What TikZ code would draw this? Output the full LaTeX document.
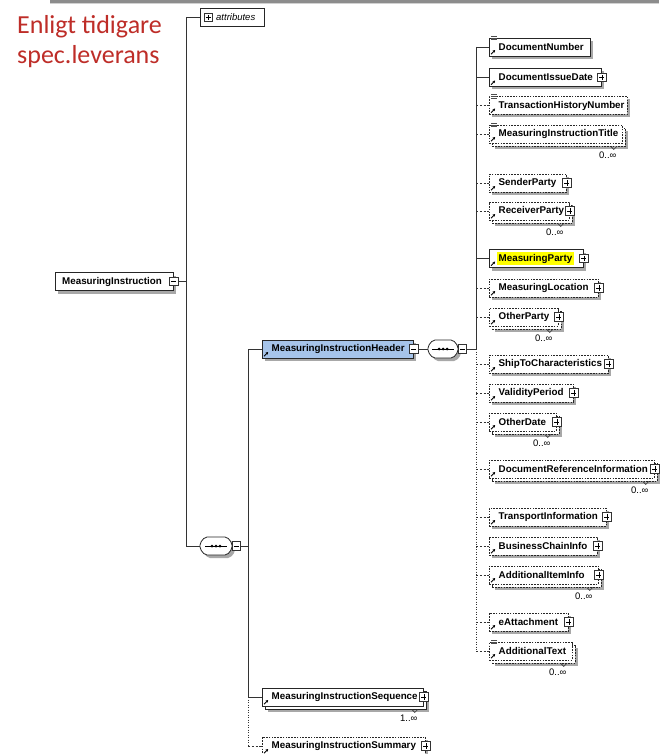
\documentclass[tikz,border=0pt]{standalone}
\usepackage{fontspec}
\setmainfont{Liberation Sans}
\newfontfamily\carlito{Carlito}
\usetikzlibrary{arrows.meta,calc}
\definecolor{notered}{RGB}{190,45,40}
\definecolor{hdrblue}{RGB}{166,196,234}
\definecolor{hlyellow}{RGB}{255,255,0}
\definecolor{shadowc}{RGB}{168,168,168}
\tikzset{
 conn/.style={draw=black!80, line width=0.9pt},
 optconn/.style={draw=black!80, line width=0.8pt, dash pattern=on 2.2pt off 1.6pt},
 dotconn/.style={draw=black!80, line width=0.9pt, dash pattern=on 1pt off 1.5pt},
 reqb/.style={rectangle, draw=black!85, line width=0.8pt, fill=white},
 optb/.style={rectangle, draw=black!85, line width=0.8pt, fill=white, dash pattern=on 1.6pt off 1.2pt},
 eltext/.style={font=\fontsize{9.8}{11}\selectfont\bfseries, inner xsep=1.5pt, inner ysep=2pt, text=black},
 occ/.style={font=\fontsize{9.5}{10}\selectfont, inner sep=0pt},
 pbox/.style={rectangle, draw=black!80, fill=white, line width=0.6pt, minimum size=8.5pt, inner sep=0pt,
   path picture={\draw[black, line width=0.6pt] ([xshift=-2.6pt]path picture bounding box.center) -- ([xshift=2.6pt]path picture bounding box.center) ([yshift=-2.6pt]path picture bounding box.center) -- ([yshift=2.6pt]path picture bounding box.center);}},
 mbox/.style={rectangle, draw=black!80, fill=white, line width=0.6pt, minimum size=8.5pt, inner sep=0pt,
   path picture={\draw[black, line width=0.6pt] ([xshift=-2.6pt]path picture bounding box.center) -- ([xshift=2.6pt]path picture bounding box.center);}},
 refarrow/.style={draw=black, line width=0.9pt, -{Stealth[length=2.6pt,width=2.8pt]}},
 compline/.style={draw=black!85, line width=0.8pt, fill=white, rounded corners=2pt},
}
% #1 name #2 left #3 cy #4 right #5 text #6 border style #7 occurrence label #8 text options
\newcommand\xel[8]{%
 \pgfmathsetmacro\elw{#4-#2}%
 \def\occtmp{#7}%
 \ifx\occtmp\empty
  \fill[shadowc] (#2+3,#3-6) rectangle (#4+3,#3+12);
  \node[#6, minimum width=\elw pt, minimum height=18pt, inner sep=0pt, anchor=west] (#1) at (#2,#3) {};
 \else
  \fill[shadowc] (#2+6,#3-3) rectangle (#4+6,#3+15);
  \node[#6, minimum width=\elw pt, minimum height=18pt, inner sep=0pt, anchor=west] (#1-b) at (#2+3,#3+3) {};
  \node[#6, minimum width=\elw pt, minimum height=18pt, inner sep=0pt, anchor=west] (#1) at (#2,#3) {};
  \draw[black!80, line width=0.6pt] ([xshift=-15pt]#1-b.south east) -- ++(3pt,-3pt) -- ++(3pt,3pt);
  \node[occ] (#1-o) at ([shift={(-15pt,-21pt)}]#1.east) {#7};
 \fi
 \node[eltext, anchor=west, #8] (#1-t) at ([xshift=8pt]#1.west) {#5};
 \draw[refarrow] ([shift={(2pt,2.2pt)}]#1.south west) -- ++(4.2pt,4.2pt);
}
\newcommand\plusat[1]{\node[pbox] (#1-p) at (#1.east) {};}
\newcommand\simpleicon[1]{%
 \fill[white] ([shift={(1.5pt,2pt)}]#1.north west) rectangle ++(6.5pt,-5pt);
 \foreach \dy in {1.5,-0.2,-1.9} \draw[black!70, line width=0.5pt] ([shift={(2pt,\dy pt)}]#1.north west) -- ++(5.5pt,0);}
% sequence compositor: #1 name #2 cx #3 cy #4 half width
\newcommand\compo[4]{%
 \fill[shadowc, rounded corners=2pt] (#2-#4+8,#3-6) -- (#2+#4-2,#3-6) -- (#2+#4+3,#3) -- (#2+#4+3,#3+6) -- (#2+#4-2,#3+12) -- (#2-#4+8,#3+12) -- (#2-#4+3,#3+6) -- (#2-#4+3,#3) -- cycle;
 \path[compline] (#2-#4+5,#3-9) -- (#2+#4-5,#3-9) -- (#2+#4,#3-3) -- (#2+#4,#3+3) -- (#2+#4-5,#3+9) -- (#2-#4+5,#3+9) -- (#2-#4,#3+3) -- (#2-#4,#3-3) -- cycle;
 \node[minimum width={2*#4 pt}, minimum height=18pt, inner sep=0pt] (#1) at (#2,#3) {};
 \draw[black, line width=0.8pt] ([xshift=-11pt]#1.center) -- ([xshift=11pt]#1.center);
 \foreach \dx in {-4,0,4} \fill[black] ([xshift=\dx pt]#1.center) circle (1.5pt);
 \node[mbox] (#1-m) at ([xshift=4.25pt]#1.east) {};
}
\begin{document}
\begin{tikzpicture}[x=1pt,y=-1pt]
\useasboundingbox (0,0) rectangle (659,754);
\fill[white] (0,0) rectangle (659,754);
% top bar
\fill[black!45] (50,0) rectangle (659,3);
\fill[black!18] (50,3) rectangle (659,4.5);
% note
\node[font=\carlito\fontsize{26}{30}\selectfont, text=notered, anchor=base west, inner sep=0pt] (note1) at (17,34) {Enligt tidigare};
\node[font=\carlito\fontsize{26}{30}\selectfont, text=notered, anchor=base west, inner sep=0pt] (note2) at (17,64) {spec.leverans};
% attributes
\node[reqb, minimum width=64pt, minimum height=18pt, inner sep=0pt] (attr) at (232,17) {};
\node[pbox] (attr-p) at (208.5,17.5) {};
\node[font=\fontsize{9.5}{11}\selectfont\itshape, anchor=west, inner sep=0pt] (attr-t) at (216,17.5) {attributes};
% root
\fill[shadowc] (58,275.5) rectangle (176,293.5);
\node[reqb, minimum width=118pt, minimum height=18pt, inner sep=0pt, anchor=west] (root) at (55,281.5) {};
\node[eltext, anchor=west] (root-t) at ([xshift=5.5pt]root.west) {MeasuringInstruction};
\node[mbox] (root-m) at (root.east) {};
% compositor 1
\compo{cmp1}{216}{546}{16}
% header
\xel{hdr}{262}{349}{413}{MeasuringInstructionHeader}{reqb, fill=hdrblue}{}{}
\node[mbox] (hdr-m) at (hdr.east) {};
\compo{cmp2}{443}{349}{15}
% sequence and summary
\xel{seqel}{262}{697}{423}{MeasuringInstructionSequence}{reqb}{1..∞}{}
\plusat{seqel}
\xel{sumel}{262}{746}{425}{MeasuringInstructionSummary}{optb}{}{}
\plusat{sumel}
% right children
\xel{dn}{489}{47}{590}{DocumentNumber}{reqb}{}{}
\simpleicon{dn}
\xel{did}{489}{77.5}{601}{DocumentIssueDate}{reqb}{}{}
\plusat{did}
\xel{thn}{489}{105.5}{627}{TransactionHistoryNumber}{optb}{}{}
\simpleicon{thn}
\xel{mit}{489}{134}{622}{MeasuringInstructionTitle}{optb}{0..∞}{}
\simpleicon{mit}
\xel{sp}{489}{183}{566}{SenderParty}{optb}{}{}
\plusat{sp}
\xel{rp}{489}{211}{569}{ReceiverParty}{optb}{0..∞}{}
\plusat{rp}
\xel{mp}{489}{258.5}{583}{MeasuringParty}{reqb}{}{fill=hlyellow}
\plusat{mp}
\xel{ml}{489}{288}{598}{MeasuringLocation}{optb}{}{}
\plusat{ml}
\xel{op}{489}{317}{558}{OtherParty}{optb}{0..∞}{}
\plusat{op}
\xel{stc}{489}{364}{608}{ShipToCharacteristics}{optb}{}{}
\plusat{stc}
\xel{vp}{489}{393}{573}{ValidityPeriod}{optb}{}{}
\plusat{vp}
\xel{od}{489}{422}{556}{OtherDate}{optb}{0..∞}{}
\plusat{od}
\xel{dri}{489}{469}{654}{DocumentReferenceInformation}{optb}{0..∞}{}
\plusat{dri}
\xel{ti}{489}{517}{606}{TransportInformation}{optb}{}{}
\plusat{ti}
\xel{bci}{489}{546}{597}{BusinessChainInfo}{optb}{}{}
\plusat{bci}
\xel{aii}{489}{575}{598}{AdditionalItemInfo}{optb}{0..∞}{}
\plusat{aii}
\xel{eat}{489}{622}{568}{eAttachment}{optb}{}{}
\plusat{eat}
\xel{adt}{489}{651}{572}{AdditionalText}{optb}{0..∞}{}
\simpleicon{adt}
% connectors
\coordinate (L1) at (186,0);
\coordinate (L2) at (248,0);
\coordinate (S) at (476,0);
\draw[conn] (attr.west) -- (attr.west -| L1) -- (cmp1.west -| L1) -- (cmp1.west);
\draw[conn] (root-m.east) -- (root-m.east -| L1);
\draw[conn] (cmp1-m.east) -- (cmp1-m.east -| L2);
\draw[conn] (hdr.west) -- (hdr.west -| L2) -- (seqel.west -| L2) -- (seqel.west);
\draw[dotconn] (seqel.west -| L2) -- (sumel.west -| L2);
\draw[optconn] (sumel.west -| L2) -- (sumel.west);
\draw[conn] (hdr-m.east) -- (cmp2.west);
\draw[conn] (cmp2-m.east) -- (cmp2-m.east -| S);
\draw[conn] (dn.west -| S) -- (cmp2-m.east -| S);
\draw[dotconn] (cmp2-m.east -| S) -- (adt.west -| S);
\foreach \n in {dn,did,mp} \draw[conn] (\n.west -| S) -- (\n.west);
\foreach \n in {thn,mit,sp,rp,ml,op,stc,vp,od,dri,ti,bci,aii,eat,adt} \draw[optconn] (\n.west -| S) -- (\n.west);
\end{tikzpicture}
\end{document}
